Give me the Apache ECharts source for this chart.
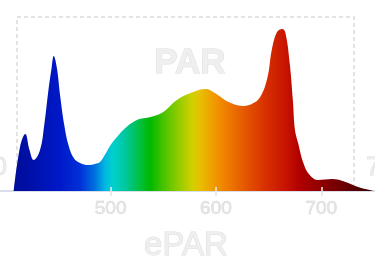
<!DOCTYPE html>
<html>
<head>
<meta charset="utf-8">
<script src="https://cdn.jsdelivr.net/npm/echarts@6/dist/echarts.min.js"></script>
<style>html,body{margin:0;padding:0;background:#fff;}#c{width:375px;height:263px;}</style>
</head>
<body>
<div id="c"></div>
<script>
const wavelengthNm = [408,414,419,423,427,433,437,441,444,446,449,452,456,460,465,471,479,485,490,495,500,506,512,525,538,550,563,576,590,599,612,625,634,642,649,653,658,663,666,670,673,675,678,683,689,697,710,723,735,746,749];
const relIntensity = [0,27.2,35.2,25.3,19.1,25.3,40.7,62.3,75.9,83.3,75.9,59.3,40.7,28.4,20.4,17.3,16,16.7,17.9,22.8,28.4,33.3,37.7,43.8,45.7,48.8,56.2,60.5,63,60.5,54.9,52.5,53.7,58,70.4,87,98.1,100,97.5,79,56.2,37.7,29.6,17.3,9.9,6.8,7.4,5.6,2.5,0.6,0];
const tickValues = [500,600,700];
const edgeLabels = ['400','750'];
const titleTop = 'PAR';
const titleBottom = 'ePAR';

const chart = echarts.init(document.getElementById('c'));
const pts = wavelengthNm.map((w,i)=>[w, relIntensity[i]]);
const grad = new echarts.graphic.LinearGradient(0,0,375,0,[
  {offset:0,color:'#000c8c'},{offset:0.08,color:'#0010a8'},{offset:0.16,color:'#0018c8'},
  {offset:0.213,color:'#0030d8'},{offset:0.253,color:'#0070e0'},{offset:0.28,color:'#00b8e0'},
  {offset:0.30,color:'#00d0d0'},{offset:0.333,color:'#00c8a0'},{offset:0.373,color:'#00c040'},
  {offset:0.40,color:'#00b800'},{offset:0.44,color:'#50c400'},{offset:0.48,color:'#98cc00'},
  {offset:0.512,color:'#d0d000'},{offset:0.533,color:'#e8c000'},{offset:0.565,color:'#f0a000'},
  {offset:0.60,color:'#f08000'},{offset:0.653,color:'#e45800'},{offset:0.707,color:'#d83000'},
  {offset:0.76,color:'#c81400'},{offset:0.80,color:'#b00000'},{offset:0.853,color:'#900000'},
  {offset:0.92,color:'#680000'},{offset:0.987,color:'#3c0000'},{offset:1,color:'#3c0000'}
], true);

chart.setOption({
  animation:false,
  grid:{left:0,right:0,top:29,bottom:72},
  xAxis:[{
    type:'value',min:395,max:751,
    splitLine:{show:false},
    axisLine:{lineStyle:{color:'#d9dee8',width:2}},
    axisTick:{show:true,customValues:tickValues,length:5,lineStyle:{color:'#e4e4e4',width:1.5}},
    axisLabel:{customValues:tickValues,fontSize:19,color:'#e4e4e4',textBorderColor:'#d4d4d4',textBorderWidth:0.6,margin:8,fontFamily:'Liberation Sans'}
  },{
    type:'value',min:395,max:751,position:'bottom',z:5,
    splitLine:{show:false},axisLine:{show:false},axisLabel:{show:false},
    axisTick:{show:true,inside:true,customValues:tickValues,length:4,lineStyle:{color:'#f0f0f0',width:1.5}}
  }],
  yAxis:{type:'value',min:0,max:100,show:false},
  graphic:[
    {type:'rect',z:-10,shape:{x:17,y:17,width:337,height:174},style:{fill:'none',stroke:'#dadada',lineWidth:1.5,lineDash:[4,3]}},
    {type:'text',z:-5,style:{text:titleTop,x:190,y:63,align:'center',verticalAlign:'middle',font:'bold 35px "Liberation Sans"',fill:'#efefef',stroke:'#dedede',lineWidth:1}},
    {type:'text',style:{text:titleBottom,x:186,y:246,align:'center',verticalAlign:'middle',font:'33px "Liberation Sans"',fill:'#efefef',stroke:'#dcdcdc',lineWidth:1}},
    {type:'text',style:{text:edgeLabels[0],x:7,y:168,align:'right',verticalAlign:'middle',font:'26px "Liberation Sans"',fill:'#ececec',stroke:'#dadada',lineWidth:0.8}},
    {type:'text',style:{text:edgeLabels[1],x:366,y:168,align:'left',verticalAlign:'middle',font:'26px "Liberation Sans"',fill:'#ececec',stroke:'#dadada',lineWidth:0.8}}
  ],
  series:[{
    type:'line',data:pts,smooth:0.4,symbol:'none',
    lineStyle:{width:0},
    areaStyle:{color:grad,opacity:1}
  }]
});
</script>
</body>
</html>
